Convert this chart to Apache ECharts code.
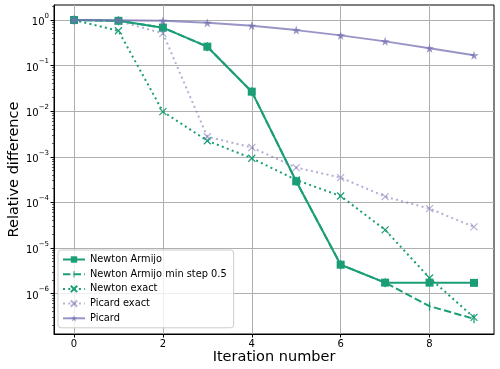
<!DOCTYPE html>
<html>
<head>
<meta charset="utf-8">
<script src="https://cdn.jsdelivr.net/npm/echarts@6/dist/echarts.min.js"></script>
<style>
html,body{margin:0;padding:0;background:#fff;}
#chart{width:500px;height:369px;}
</style>
</head>
<body>
<div id="chart"></div>
<script>
const iterations = [0, 1, 2, 3, 4, 5, 6, 7, 8, 9];
const newtonArmijo = [1, 0.96, 0.68, 0.26, 0.0268, 2.9e-4, 4.3e-6, 1.74e-6, 1.74e-6, 1.72e-6];
const newtonArmijoMinStep = [1, 0.96, 0.68, 0.26, 0.0268, 2.9e-4, 4.3e-6, 1.74e-6, 5.3e-7, 2.8e-7];
const newtonExact = [1, 0.58, 0.0098, 2.25e-3, 9.3e-4, 3.1e-4, 1.38e-4, 2.5e-5, 2.2e-6, 3.0e-7];
const picardExact = [1, 0.95, 0.51, 2.75e-3, 1.6e-3, 5.8e-4, 3.5e-4, 1.34e-4, 7.3e-5, 2.9e-5];
const picard = [1, 0.99, 0.96, 0.87, 0.75, 0.60, 0.46, 0.34, 0.24, 0.168];
const xTicks = [0, 2, 4, 6, 8];
const yDecades = [-7, -6, -5, -4, -3, -2, -1, 0];
const minorMultipliers = [2, 3, 4, 5, 6, 7, 8, 9];
const seriesNames = ['Newton Armijo', 'Newton Armijo min step 0.5', 'Newton exact', 'Picard exact', 'Picard'];

const GREEN = '#1b9e77';
const PURPLE = '#7570b3';
const FONT = 'DejaVu Sans';
const xMark = 'path://M0,0L10,10M10,0L0,10';
const vMark = 'path://M0,0M10,10M4.3,0L5.7,0L5.7,10L4.3,10Z';
const star = 'path://M50,0L61.2,34.5L97.6,34.5L68.2,55.9L79.4,90.5L50,69.1L20.6,90.5L31.8,55.9L2.4,34.5L38.8,34.5Z';

const Y_MIN = Math.pow(10, -6.886), Y_MAX = Math.pow(10, 0.329);
const yMajor = yDecades.map(e => Math.pow(10, e)).filter(v => v >= Y_MIN && v <= Y_MAX);
const yMinor = [];
yDecades.forEach(e => minorMultipliers.forEach(m => { const v = m * Math.pow(10, e); if (v >= Y_MIN && v <= Y_MAX) yMinor.push(v); }));

function pairs(ys){ return iterations.map((x,i)=>[x, ys[i]]); }

function yFmt(v){
  const e = Math.log10(v);
  const r = Math.round(e);
  if (Math.abs(e - r) > 1e-6) return '';
  const s = String(r).replace('-', '\u2212');
  return '{b|10}{s|' + s + '}';
}

const chart = echarts.init(document.getElementById('chart'), null, {renderer:'canvas'});
chart.setOption({
  animation: false,
  backgroundColor: '#fff',
  textStyle: {fontFamily: FONT},
  grid: {left: 54, right: 6, top: 5, bottom: 35, show: true, borderColor: '#000', borderWidth: 1,
         backgroundColor: 'transparent', containLabel: false, outerBoundsMode: 'none'},
  xAxis: {
    type: 'value', min: -0.45, max: 9.45, interval: 2,
    name: 'Iteration number', nameLocation: 'middle', nameGap: 16, nameMoveOverlap: false,
    nameTextStyle: {fontFamily: FONT, fontSize: 14.5, color: '#000'},
    axisLine: {show: true, onZero: false, lineStyle: {color: '#000', width: 1}},
    axisTick: {show: true, length: 3.5, lineStyle: {color: '#000'}, customValues: xTicks},
    axisLabel: {fontFamily: FONT, fontSize: 10, color: '#000', margin: 5, customValues: xTicks,
      formatter: v => (Math.abs(v - Math.round(v)) < 1e-6 ? String(Math.round(v)) : '')},
    splitLine: {show: true, lineStyle: {color: '#b0b0b0', width: 1}}
  },
  yAxis: [{
    type: 'log', logBase: 10, min: Y_MIN, max: Y_MAX, splitNumber: 8,
    name: 'Relative difference', nameLocation: 'middle', nameGap: 32, nameRotate: 90, nameMoveOverlap: false,
    nameTextStyle: {fontFamily: FONT, fontSize: 14.5, color: '#000'},
    axisLine: {show: true, onZero: false, lineStyle: {color: '#000', width: 1}},
    axisTick: {show: true, length: 3.5, lineStyle: {color: '#000'}, customValues: yMajor},
    axisLabel: {fontFamily: FONT, color: '#000', margin: 5, formatter: yFmt, customValues: yMajor,
      rich: {b: {fontFamily: FONT, fontSize: 10, color: '#000', lineHeight: 15, verticalAlign: 'bottom'},
             s: {fontFamily: FONT, fontSize: 7, color: '#000', lineHeight: 15, verticalAlign: 'top'}}},
    splitLine: {show: true, lineStyle: {color: '#b0b0b0', width: 1}}
  }, {
    type: 'log', logBase: 10, min: Y_MIN, max: Y_MAX, position: 'left',
    axisLine: {show: false, onZero: false},
    axisTick: {show: true, length: 2, lineStyle: {color: '#000', width: 0.6}, customValues: yMinor},
    axisLabel: {show: false},
    splitLine: {show: false}
  }],
  legend: {
    orient: 'vertical', left: 58, top: 250, itemGap: 3.7, itemWidth: 22, itemHeight: 8,
    backgroundColor: 'rgba(255,255,255,0.8)', borderColor: '#cccccc', borderWidth: 1, borderRadius: 3,
    padding: [4, 7, 4, 4],
    textStyle: {fontFamily: FONT, fontSize: 9.8, color: '#000', lineHeight: 11},
    data: seriesNames
  },
  series: [
    {name: seriesNames[0], type: 'line', data: pairs(newtonArmijo), symbol: 'rect', symbolSize: 8,
     lineStyle: {color: GREEN, width: 2}, itemStyle: {color: GREEN}},
    {name: seriesNames[1], type: 'line', data: pairs(newtonArmijoMinStep), symbol: vMark, symbolSize: 9,
     lineStyle: {color: GREEN, width: 2, type: [7.4, 3.2]}, itemStyle: {color: GREEN}},
    {name: seriesNames[2], type: 'line', data: pairs(newtonExact), symbol: xMark, symbolSize: 7,
     lineStyle: {color: GREEN, width: 2, type: [2, 3.3]}, itemStyle: {color: GREEN, borderColor: GREEN, borderWidth: 1.2}},
    {name: seriesNames[3], type: 'line', data: pairs(picardExact), symbol: xMark, symbolSize: 7,
     lineStyle: {color: PURPLE, width: 2, type: [2, 3.3], opacity: 0.55},
     itemStyle: {color: PURPLE, borderColor: PURPLE, borderWidth: 1.2, opacity: 0.55}},
    {name: seriesNames[4], type: 'line', data: pairs(picard), symbol: star, symbolSize: 9,
     lineStyle: {color: PURPLE, width: 2, opacity: 0.75}, itemStyle: {color: PURPLE, opacity: 0.75}}
  ]
});
</script>
</body>
</html>
